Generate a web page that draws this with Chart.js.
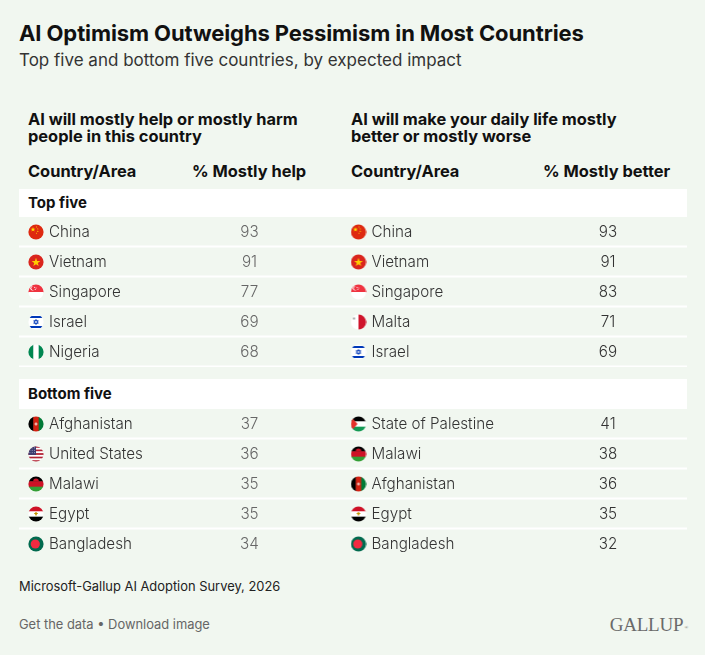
<!DOCTYPE html>
<html>
<head>
<meta charset="utf-8">
<script src="https://cdn.jsdelivr.net/npm/chart.js@4.4.1/dist/chart.umd.min.js"></script>
<style>
  body { margin: 0; background: #f1f7f0; font-family: Inter, "Noto Sans", sans-serif; color: #222; }
  #page { position: relative; width: 705px; height: 655px; overflow: hidden; }
  .abs { position: absolute; white-space: nowrap; }
  .title { left: 19px; top: 20px; font-size: 22px; line-height: 26px; font-weight: 700; color: #111; letter-spacing: -0.1px; }
  .subtitle { left: 19px; top: 49px; font-size: 17px; line-height: 22px; font-weight: 400; color: #333; }
  .colhead { top: 111px; font-size: 16.4px; line-height: 17px; font-weight: 700; color: #111; }
  .subhead { top: 162px; font-size: 16.4px; line-height: 18px; font-weight: 700; color: #111; }
  .band { left: 19px; width: 668px; background: #fff; font-size: 15px; font-weight: 700; color: #111; box-sizing: border-box; padding-left: 9px; }
  .section { position: absolute; left: 0; width: 705px; height: 150px; }
  .source { left: 19px; top: 578px; font-size: 12.9px; line-height: 18px; color: #222; }
  .links { left: 19px; top: 616px; font-size: 12.9px; line-height: 18px; color: #666; }
  .logo { right: 18px; top: 614px; font-family: "Liberation Serif", "DejaVu Serif", serif; font-size: 19px; line-height: 22px; color: #6a6a6a; letter-spacing: -0.2px; }
  .logo sup { font-size: 5px; vertical-align: top; position: relative; top: 3px; left: 1px; }
</style>
</head>
<body>
<div id="page">
  <div class="abs title">AI Optimism Outweighs Pessimism in Most Countries</div>
  <div class="abs subtitle">Top five and bottom five countries, by expected impact</div>

  <div class="abs colhead" style="left:28px">AI will mostly help or mostly harm<br>people in this country</div>
  <div class="abs colhead" style="left:351px">AI will make your daily life mostly<br>better or mostly worse</div>

  <div class="abs subhead" style="left:28px">Country/Area</div>
  <div class="abs subhead" style="left:192px">% Mostly help</div>
  <div class="abs subhead" style="left:351px">Country/Area</div>
  <div class="abs subhead" style="left:543px">% Mostly better</div>

  <div class="abs band" style="top:189px;height:28px;line-height:28px">Top five</div>
  <div class="section" style="top:217px"><canvas id="topChart"></canvas></div>

  <div class="abs band" style="top:379px;height:30px;line-height:30px">Bottom five</div>
  <div class="section" style="top:409px"><canvas id="bottomChart"></canvas></div>

  <div class="abs source">Microsoft-Gallup AI Adoption Survey, 2026</div>
  <div class="abs links">Get the data • Download image</div>
  <div class="abs logo">GALLUP<sup>®</sup></div>
</div>

<script>
//------------------------------------------------------
// DATA
//------------------------------------------------------

const rankLabels = ['1', '2', '3', '4', '5'];

const topHelpCountries = ['China', 'Vietnam', 'Singapore', 'Israel', 'Nigeria'];
const topHelpValues = [93, 91, 77, 69, 68];
const topBetterCountries = ['China', 'Vietnam', 'Singapore', 'Malta', 'Israel'];
const topBetterValues = [93, 91, 83, 71, 69];

const bottomHelpCountries = ['Afghanistan', 'United States', 'Malawi', 'Egypt', 'Bangladesh'];
const bottomHelpValues = [37, 36, 35, 35, 34];
const bottomBetterCountries = ['State of Palestine', 'Malawi', 'Afghanistan', 'Egypt', 'Bangladesh'];
const bottomBetterValues = [41, 38, 36, 35, 32];

// column layout (px on the hidden x axis)
const COLUMN = { helpFlag: 36, helpValue: 249.5, betterFlag: 358.5, betterValue: 608, nameGap: 13 };

//------------------------------------------------------
// FLAGS (small round icons used as point styles)
//------------------------------------------------------

function star(g, cx, cy, r, color) {
  g.fillStyle = color;
  g.beginPath();
  for (let k = 0; k < 10; k++) {
    const a = -Math.PI / 2 + k * Math.PI / 5;
    const rr = k % 2 === 0 ? r : r * 0.4;
    g.lineTo(cx + rr * Math.cos(a), cy + rr * Math.sin(a));
  }
  g.closePath();
  g.fill();
}

function hStripes(g, colors) {
  const h = 16 / colors.length;
  colors.forEach((c, i) => { g.fillStyle = c; g.fillRect(0, i * h, 16, h + 0.5); });
}

function vStripes(g, colors) {
  const w = 16 / colors.length;
  colors.forEach((c, i) => { g.fillStyle = c; g.fillRect(i * w, 0, w + 0.5, 16); });
}

const flagPainters = {
  'China': g => {
    g.fillStyle = '#de2910'; g.fillRect(0, 0, 16, 16);
    star(g, 5, 5.5, 2.6, '#ffde00');
    star(g, 8.5, 3, 0.9, '#ffde00'); star(g, 9.8, 5, 0.9, '#ffde00');
    star(g, 9.8, 7.4, 0.9, '#ffde00'); star(g, 8.5, 9.2, 0.9, '#ffde00');
  },
  'Vietnam': g => { g.fillStyle = '#da251d'; g.fillRect(0, 0, 16, 16); star(g, 8, 8.4, 4.6, '#ffcd00'); },
  'Singapore': g => {
    hStripes(g, ['#ef3340', '#ffffff']);
    g.fillStyle = '#fff'; g.beginPath(); g.arc(4.6, 4.2, 2.3, 0, 2 * Math.PI); g.fill();
    g.fillStyle = '#ef3340'; g.beginPath(); g.arc(5.5, 4.2, 2.1, 0, 2 * Math.PI); g.fill();
    g.fillStyle = '#fff'; g.fillRect(6.2, 3, 0.9, 0.9); g.fillRect(7.6, 3.6, 0.9, 0.9); g.fillRect(6.8, 5, 0.9, 0.9);
  },
  'Israel': g => {
    g.fillStyle = '#fff'; g.fillRect(0, 0, 16, 16);
    g.fillStyle = '#0038b8'; g.fillRect(0, 2, 16, 2); g.fillRect(0, 12, 16, 2);
    g.strokeStyle = '#0038b8'; g.lineWidth = 0.8;
    [[-Math.PI / 2], [Math.PI / 2]].forEach(([a0]) => {
      g.beginPath();
      for (let k = 0; k < 3; k++) {
        const a = a0 + k * 2 * Math.PI / 3;
        g.lineTo(8 + 2.6 * Math.cos(a), 8 + 2.6 * Math.sin(a));
      }
      g.closePath(); g.stroke();
    });
  },
  'Nigeria': g => vStripes(g, ['#008751', '#ffffff', '#008751']),
  'Malta': g => {
    vStripes(g, ['#ffffff', '#cf142b']);
    g.fillStyle = '#9a9a9a'; g.fillRect(2.5, 3.5, 2, 2);
  },
  'Afghanistan': g => {
    vStripes(g, ['#000000', '#d32011', '#007a36']);
    g.fillStyle = '#f3d6cf'; g.fillRect(7.4, 6.5, 1.2, 3); g.fillRect(6.5, 7.5, 3, 1);
  },
  'United States': g => {
    for (let i = 0; i < 9; i++) { g.fillStyle = i % 2 === 0 ? '#b22234' : '#ffffff'; g.fillRect(0, i * 16 / 9, 16, 16 / 9 + 0.3); }
    g.fillStyle = '#3c3b6e'; g.fillRect(0, 0, 8, 8.9);
    g.fillStyle = '#c9c9e0';
    for (let r = 0; r < 3; r++) for (let c = 0; c < 3; c++) g.fillRect(1.5 + c * 2.3, 1.5 + r * 2.4, 0.8, 0.8);
  },
  'Malawi': g => {
    hStripes(g, ['#000000', '#ce1126', '#339e35']);
    g.fillStyle = '#ce1126'; g.beginPath(); g.arc(8, 5.4, 2.8, Math.PI, 2 * Math.PI); g.fill();
  },
  'Egypt': g => {
    hStripes(g, ['#ce1126', '#ffffff', '#000000']);
    g.fillStyle = '#c09300'; g.fillRect(7.2, 6.2, 1.6, 3.2); g.fillRect(6.2, 7, 3.6, 1);
  },
  'Bangladesh': g => {
    g.fillStyle = '#006a4e'; g.fillRect(0, 0, 16, 16);
    g.fillStyle = '#f42a41'; g.beginPath(); g.arc(7.3, 8, 4.6, 0, 2 * Math.PI); g.fill();
  },
  'State of Palestine': g => {
    hStripes(g, ['#000000', '#ffffff', '#149954']);
    g.fillStyle = '#e4312b'; g.beginPath(); g.moveTo(0, 0); g.lineTo(7, 8); g.lineTo(0, 16); g.closePath(); g.fill();
  }
};

const flagCache = {};
function flagFor(country) {
  if (flagCache[country]) return flagCache[country];
  const c = document.createElement('canvas');
  c.width = 16; c.height = 16;
  const g = c.getContext('2d');
  g.save();
  g.beginPath(); g.arc(8, 8, 7.6, 0, 2 * Math.PI); g.clip();
  (flagPainters[country] || (x => { x.fillStyle = '#ccc'; x.fillRect(0, 0, 16, 16); }))(g);
  g.restore();
  flagCache[country] = c;
  return c;
}

//------------------------------------------------------
// TABLE ROWS PLUGIN
//------------------------------------------------------

const tableRows = {
  id: 'tableRows',
  beforeDatasetsDraw(chart, args, opts) {
    const { ctx } = chart;
    const y = chart.scales.y;
    const step = y.getPixelForValue(1) - y.getPixelForValue(0);
    const count = opts.lastSeparator ? rankLabels.length : rankLabels.length - 1;
    ctx.save();
    ctx.fillStyle = '#ffffff';
    for (let i = 0; i < count; i++) {
      const yb = y.getPixelForValue(i) + step / 2;
      ctx.fillRect(19, Math.round(yb) - 1.5, 668, 2);
    }
    ctx.restore();
  },
  afterDatasetsDraw(chart) {
    const { ctx } = chart;
    const x = chart.scales.x;
    ctx.save();
    ctx.font = '300 15.2px Inter, "Noto Sans", sans-serif';
    ctx.textBaseline = 'middle';
    chart.data.datasets.forEach((ds, di) => {
      const meta = chart.getDatasetMeta(di);
      meta.data.forEach((pt, i) => {
        const row = ds.data[i];
        ctx.fillStyle = '#333';
        ctx.textAlign = 'left';
        ctx.fillText(row.country, pt.x + COLUMN.nameGap, pt.y);
        ctx.fillStyle = ds.valueColor;
        ctx.textAlign = 'center';
        ctx.fillText(String(row.value), x.getPixelForValue(ds.valueColumn), pt.y);
      });
    });
    ctx.restore();
  }
};

//------------------------------------------------------
// SECTION CHARTS
//------------------------------------------------------

function column(countries, values, flagX) {
  return countries.map((c, i) => ({ x: flagX, y: rankLabels[i], country: c, value: values[i] }));
}

const buildSection = (id, helpC, helpV, betterC, betterV, lastSeparator) => {
  const ctx = document.getElementById(id).getContext('2d');
  return new Chart(ctx, {
    type: 'scatter',
    data: {
      datasets: [{
        label: '% Mostly help',
        data: column(helpC, helpV, COLUMN.helpFlag),
        pointStyle: helpC.map(flagFor),
        valueColumn: COLUMN.helpValue,
        valueColor: '#666666'
      }, {
        label: '% Mostly better',
        data: column(betterC, betterV, COLUMN.betterFlag),
        pointStyle: betterC.map(flagFor),
        valueColumn: COLUMN.betterValue,
        valueColor: '#333333'
      }]
    },
    options: {
      responsive: true,
      maintainAspectRatio: false,
      animation: false,
      events: [],
      layout: { padding: 0, autoPadding: false },
      scales: {
        x: { type: 'linear', min: 0, max: 705, display: false },
        y: { type: 'category', labels: rankLabels, offset: true, display: false }
      },
      plugins: {
        legend: { display: false },
        tooltip: { enabled: false },
        tableRows: { lastSeparator: lastSeparator }
      }
    },
    plugins: [tableRows]
  });
};

buildSection('topChart', topHelpCountries, topHelpValues, topBetterCountries, topBetterValues, true);
buildSection('bottomChart', bottomHelpCountries, bottomHelpValues, bottomBetterCountries, bottomBetterValues, false);
</script>
</body>
</html>
